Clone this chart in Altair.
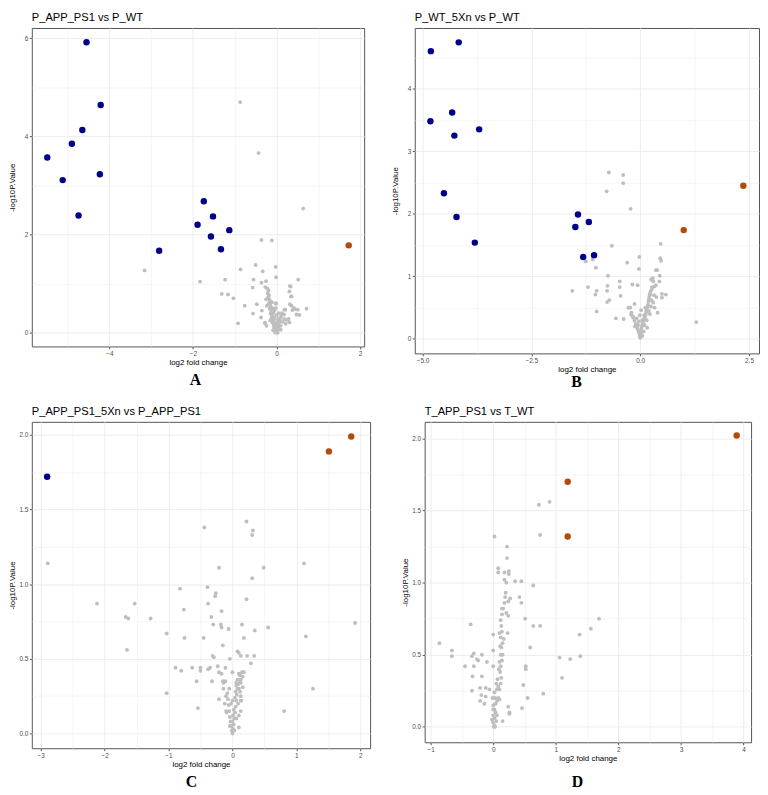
import altair as alt
import pandas as pd

GRAY = "#BEBEBE"
BLUE = "#00008B"
ORANGE = "#B34A0C"

# ---------------- Panel A: P_APP_PS1 vs P_WT ----------------
a_down_x = [-4.55, -4.21, -4.65, -4.90, -5.49, -4.23, -5.12, -1.74, -4.74, -1.89, -1.52, -1.13, -1.57, -1.33, -2.81]
a_down_y = [5.92, 4.64, 4.13, 3.85, 3.57, 3.23, 3.11, 2.68, 2.39, 2.20, 2.37, 2.09, 1.96, 1.70, 1.67]
a_up_x = [1.73]
a_up_y = [1.78]
a_ns_x = [-0.87, -0.43, 0.64, -0.36, -0.11, -3.16, -1.83, -0.86, -0.50, -0.33, -0.02, -0.01, -1.23, -0.55, 0.52,
          -1.31, -1.16, -1.03, -0.76, -0.92, -0.57, -0.36, -0.25, -0.56, -0.47, -0.35, 0.34, 0.31, 0.36, 0.21,
          0.32, 0.36, 0.38, 0.44, 0.72, 0.55, 0.18, 0.29, 0.31, -0.37, -0.28, -0.24, -0.02, -0.27, 0.32, 0.35,
          -0.01, 0.42, 0.51, 0.19, 0.48, 0.24, -0.27,
          -0.19, -0.21, -0.18, -0.20, -0.17, -0.16, -0.18, -0.15, -0.14, -0.16, -0.13, -0.12, -0.14, -0.11, -0.10,
          -0.12, -0.09, -0.08, -0.10, -0.07, -0.05, -0.06, -0.04, -0.02, -0.01, 0.00, 0.01, 0.02, 0.03, 0.05,
          0.04, 0.06, 0.08, 0.07, 0.10, 0.12, 0.13, -0.03, 0.00, -0.05, 0.02, -0.07, 0.00, -0.09, -0.05, -0.11,
          -0.22, -0.25, -0.23, 0.10, 0.15, -0.15, 0.05, -0.02, 0.10, -0.08, 0.18, 0.22, 0.03, -0.03]
a_ns_y = [4.70, 3.66, 2.53, 1.89, 1.88, 1.27, 1.04, 1.29, 1.38, 1.25, 1.34, 1.13, 1.08, 1.08, 1.08,
          0.79, 0.78, 0.70, 0.55, 0.19, 0.92, 1.02, 1.05, 0.39, 0.58, 0.45, 0.94, 0.84, 0.74, 0.47,
          0.58, 0.55, 0.46, 0.48, 0.49, 0.36, 0.37, 0.28, 0.21, 0.31, 0.20, 0.14, 0.60, 0.93, 0.95, 0.74,
          0.59, 0.50, 0.47, 0.47, 0.37, 0.26, 0.20,
          0.86, 0.80, 0.76, 0.72, 0.68, 0.64, 0.60, 0.56, 0.52, 0.49, 0.46, 0.42, 0.39, 0.36, 0.33,
          0.30, 0.27, 0.24, 0.21, 0.18, 0.15, 0.12, 0.09, 0.06, 0.03, 0.01, 0.05, 0.08, 0.11, 0.14,
          0.18, 0.21, 0.25, 0.29, 0.32, 0.36, 0.40, 0.20, 0.16, 0.30, 0.26, 0.40, 0.35, 0.50, 0.45, 0.62,
          0.90, 0.68, 0.55, 0.14, 0.22, 0.25, 0.40, 0.50, 0.06, 0.05, 0.28, 0.18, 0.00, 0.00]

# ---------------- Panel B: P_WT_5Xn vs P_WT ----------------
b_down_x = [-4.17, -4.81, -4.32, -4.82, -3.70, -4.27, -4.51, -4.22, -3.80, -1.43, -1.49, -1.18, -1.31, -1.06]
b_down_y = [4.74, 4.60, 3.62, 3.48, 3.35, 3.25, 2.33, 1.95, 1.54, 1.99, 1.79, 1.87, 1.31, 1.34]
b_up_x = [2.37, 1.00]
b_up_y = [2.45, 1.74]
b_ns_x = [-0.72, -0.39, -0.39, -0.77, -0.22, -0.65, 0.47, -1.25, -1.09, -1.02, -0.30, -0.02, -0.03, 0.46, 0.48,
          0.36, 0.39, -0.74, 0.45, 0.25, 0.30, 0.44, -0.47, 0.36, 0.27, -0.18, -0.06, -0.47, -0.75, -1.20,
          -1.56, -1.00, -1.03, -0.76, -0.45, -0.76, -0.71, -1.00, -0.56, -0.38, 1.29, 0.50, 0.59, 0.50, 0.37,
          0.23, 0.33, 0.40, -0.27, -0.23, -0.13, 0.02, -0.20, -0.17, -0.01,
          0.29, 0.33, 0.27, 0.24, 0.22, 0.21, 0.20, 0.19, 0.18, 0.17, 0.15, 0.14, 0.13, 0.12, 0.10, 0.08,
          0.07, 0.06, 0.04, 0.03, 0.02, 0.02, 0.01, 0.00, -0.01, -0.02, -0.04, -0.06, -0.08, -0.10, -0.13,
          -0.16, -0.21, -0.12, -0.05, 0.10, 0.15, 0.22, 0.25, 0.12, 0.26, 0.30, 0.05, -0.03, 0.00, 0.08,
          0.20, 0.16, -0.08, 0.32, 0.09, 0.05]
b_ns_y = [2.66, 2.62, 2.49, 2.36, 2.08, 1.49, 1.52, 1.24, 1.27, 1.14, 1.22, 1.31, 1.12, 1.29, 1.25,
          1.10, 1.10, 1.01, 1.01, 0.95, 0.92, 0.92, 0.92, 0.86, 0.83, 0.87, 0.86, 0.83, 0.85, 0.83,
          0.77, 0.77, 0.71, 0.77, 0.69, 0.59, 0.62, 0.44, 0.33, 0.32, 0.27, 0.72, 0.71, 0.66, 0.67,
          0.71, 0.50, 0.42, 0.50, 0.50, 0.56, 0.46, 0.42, 0.36, 0.38,
          0.97, 0.84, 0.80, 0.76, 0.72, 0.68, 0.64, 0.60, 0.55, 0.51, 0.47, 0.44, 0.40, 0.37, 0.34, 0.31,
          0.27, 0.24, 0.21, 0.18, 0.14, 0.10, 0.06, 0.02, 0.04, 0.08, 0.12, 0.16, 0.20, 0.24, 0.29,
          0.34, 0.39, 0.20, 0.22, 0.22, 0.30, 0.40, 0.52, 0.50, 0.62, 0.58, 0.30, 0.28, 0.12, 0.12,
          0.45, 0.18, 0.33, 0.70, 0.38, 0.05]

# ---------------- Panel C: P_APP_PS1_5Xn vs P_APP_PS1 ----------------
c_down_x = [-2.90]
c_down_y = [1.72]
c_up_x = [1.51, 1.86]
c_up_y = [1.89, 1.99]
c_ns_x = [-2.89, -0.44, 0.22, 0.32, 0.31, -0.21, 0.49, 1.12, 0.31, -0.82, -0.39, -0.26, -0.27, 0.22,
          -2.12, -1.53, -1.67, -1.63, -1.28, -1.65, -1.03, -0.76, -0.75, -0.38, -0.33, -0.17, -0.30, -0.18,
          -0.17, -0.06, 0.15, 0.56, 0.35, -0.45, -0.15, 0.18, 1.15, 1.92, 0.08, 0.10, 0.13, 0.23, 0.34,
          -0.31, -0.29, -0.04, -0.23, -0.11, -0.50, -0.50, -0.63, -0.89, -0.80, -0.38, -0.35, -0.21, -0.17,
          0.00, 0.10, 0.17, 0.29, -0.56, -0.32, -0.15, -0.14, 0.06, 0.13, -1.03, 1.26, 0.81, -0.54, -0.21,
          -0.10, 0.13, 0.13, 0.14, 0.10,
          0.00, 0.01, 0.02, 0.03, 0.04, 0.05, 0.06, 0.07, 0.08, 0.09, 0.11, 0.12, 0.15, 0.18, -0.01,
          -0.02, -0.03, -0.04, -0.05, -0.06, -0.07, -0.08, -0.10, -0.12, -0.09, 0.00, 0.01, 0.02, -0.02,
          0.04, 0.05, 0.06, 0.08, 0.10, 0.12, 0.13, 0.16, -0.05, 0.03, -0.04, 0.09, 0.10, 0.16, 0.13,
          -0.14, -0.11, 0.00, 0.06]
c_ns_y = [1.14, 1.38, 1.42, 1.36, 1.33, 1.11, 1.11, 1.14, 1.04, 0.97, 0.98, 0.94, 0.92, 0.90,
          0.87, 0.87, 0.78, 0.77, 0.77, 0.56, 0.67, 0.83, 0.64, 0.87, 0.78, 0.82, 0.73, 0.73,
          0.71, 0.70, 0.73, 0.71, 0.69, 0.64, 0.59, 0.64, 0.65, 0.74, 0.55, 0.54, 0.52, 0.52, 0.52,
          0.52, 0.51, 0.50, 0.45, 0.44, 0.44, 0.42, 0.44, 0.44, 0.42, 0.43, 0.44, 0.41, 0.40,
          0.41, 0.40, 0.41, 0.47, 0.35, 0.35, 0.35, 0.34, 0.34, 0.36, 0.27, 0.30, 0.15, 0.17, 0.23,
          0.15, 0.15, 0.25, 0.22, 0.04,
          0.00, 0.03, 0.06, 0.10, 0.14, 0.18, 0.22, 0.26, 0.30, 0.33, 0.36, 0.39, 0.41, 0.41, 0.02,
          0.05, 0.08, 0.11, 0.15, 0.19, 0.23, 0.27, 0.25, 0.20, 0.14, 0.08, 0.12, 0.16, 0.20,
          0.24, 0.28, 0.32, 0.36, 0.30, 0.28, 0.34, 0.38, 0.30, 0.02, 0.05, 0.20, 0.12, 0.31, 0.22,
          0.30, 0.35, 0.22, 0.10]

# ---------------- Panel D: T_APP_PS1 vs T_WT ----------------
d_down_x = []
d_down_y = []
d_up_x = [3.89, 1.19, 1.19]
d_up_y = [2.02, 1.70, 1.32]
d_ns_x = [0.73, 0.90, 0.75, 0.02, 0.22, 0.22, 0.08, 0.08, 0.18, 0.25, 0.25, 0.18, 0.21, 0.35, 0.45, 0.64,
          1.69, -0.36, -0.86, -0.66, -0.66, -0.45, -0.31, -0.31, -0.34, -0.26, -0.24, -0.18, -0.10, -0.33,
          -0.18, -0.21, -0.12, -0.06, -0.34, -0.19, -0.12, -0.21, -0.14, 0.00, 0.23, 0.00, 0.00, 0.51, 0.64,
          0.75, 1.06, 1.23, 1.39, 1.38, 1.56, 1.10, 0.59, 0.52, 0.52, 0.48, 0.80, 0.55, 0.46, 0.24, 0.26,
          0.26, 0.15, 0.42, 0.45, 0.27, 0.24, 0.21, 0.24, 0.14,
          0.12, 0.13, 0.11, 0.12, 0.14, 0.12, 0.13, 0.15, 0.12, 0.14, 0.13, 0.12, 0.14, 0.16, 0.18, 0.19,
          0.20, 0.11, 0.10, 0.09, 0.15, 0.17, 0.10, 0.06, 0.08, 0.10, 0.03, 0.06, 0.00, 0.02, 0.04, 0.00,
          0.02, 0.00, 0.02, -0.02, 0.05, 0.04, -0.01, 0.08, 0.10, 0.02, 0.05, 0.07, 0.00, 0.06, 0.01, 0.03]
d_ns_y = [1.54, 1.56, 1.33, 1.32, 1.25, 1.17, 1.10, 1.07, 1.07, 1.08, 1.06, 1.02, 1.00, 1.01, 1.01, 0.98,
          0.75, 0.71, 0.58, 0.53, 0.49, 0.42, 0.51, 0.42, 0.49, 0.47, 0.46, 0.50, 0.45, 0.35,
          0.35, 0.27, 0.27, 0.26, 0.25, 0.22, 0.21, 0.18, 0.16, 0.64, 0.65, 0.42, 0.53, 0.75, 0.70,
          0.70, 0.48, 0.47, 0.49, 0.64, 0.68, 0.34, 0.55, 0.42, 0.40, 0.29, 0.23, 0.20, 0.13, 0.14, 0.10,
          0.09, 0.04, 0.90, 0.86, 0.89, 0.87, 0.79, 0.77, 0.82,
          0.30, 0.34, 0.38, 0.42, 0.46, 0.50, 0.55, 0.58, 0.62, 0.66, 0.70, 0.74, 0.78, 0.82, 0.86, 0.90,
          0.93, 0.56, 0.45, 0.40, 0.50, 0.61, 0.65, 0.26, 0.28, 0.26, 0.20, 0.18, 0.15, 0.12, 0.10, 0.08,
          0.06, 0.03, 0.01, 0.05, 0.04, 0.16, 0.20, 0.20, 0.19, 0.24, 0.30, 0.33, 0.12, 0.08, 0.00, 0.00]

titles = ["P_APP_PS1 vs P_WT", "P_WT_5Xn vs P_WT", "P_APP_PS1_5Xn vs P_APP_PS1", "T_APP_PS1 vs T_WT"]
letters = ["A", "B", "C", "D"]
x_title = "log2 fold change"
y_title = "-log10P.Value"

FONT = "Liberation Sans"


def make_axis(title, major, minor, fmt, is_y):
    majs = ",".join(repr(float(v)) for v in major)
    test = f"indexof([{majs}], datum.value) >= 0"
    extra = {"minExtent": 13, "maxExtent": 13, "titlePadding": 2.5} if is_y else {"titlePadding": 2}
    return alt.Axis(
        title=title,
        values=sorted(major + minor),
        labelExpr=f"{test} ? format(datum.value, '{fmt}') : ''",
        tickColor={"condition": {"test": test, "value": "#333333"}, "value": "rgba(0,0,0,0)"},
        gridWidth={"condition": {"test": test, "value": 0.9}, "value": 0.5},
        gridColor="#EBEBEB",
        grid=True,
        domain=False,
        tickSize=2.5,
        tickWidth=0.8,
        labelFontSize=6.5,
        labelColor="#4D4D4D",
        labelPadding=1.5,
        labelOverlap=False,
        labelFlush=False,
        labelFont=FONT,
        titleFont=FONT,
        titleFontSize=8,
        titleColor="#000000",
        titleFontWeight="normal",
        **extra,
    )


def panel(i, ns_x, ns_y, dn_x, dn_y, up_x, up_y, xdom, ydom, xmaj, xmin, xfmt, ymaj, ymin, yfmt,
          w, h, lx, ly):
    ns = pd.DataFrame({"x": ns_x, "y": ns_y})
    sig = pd.DataFrame({
        "x": dn_x + up_x,
        "y": dn_y + up_y,
        "g": ["down"] * len(dn_x) + ["up"] * len(up_x),
    })
    X = alt.X("x:Q", scale=alt.Scale(domain=xdom, nice=False, zero=False),
              axis=make_axis(x_title, xmaj, xmin, xfmt, False))
    Y = alt.Y("y:Q", scale=alt.Scale(domain=ydom, nice=False, zero=False),
              axis=make_axis(y_title, ymaj, ymin, yfmt, True))
    base_ns = alt.Chart(ns).mark_circle(size=15, color=GRAY, opacity=1).encode(x=X, y=Y)
    base_sig = alt.Chart(sig).mark_circle(size=42, opacity=1).encode(
        x=X, y=Y,
        color=alt.Color("g:N", scale=alt.Scale(domain=["down", "up"], range=[BLUE, ORANGE]), legend=None),
    )
    lab = alt.Chart(pd.DataFrame({"t": [letters[i]]})).mark_text(
        font="Liberation Serif", fontWeight="bold", fontSize=16, baseline="middle", align="center",
        color="#000000",
    ).encode(text="t:N", x=alt.value(lx), y=alt.value(ly))
    return alt.layer(base_ns, base_sig, lab).properties(
        width=w, height=h,
        title=alt.TitleParams(text=titles[i], anchor="start", frame="group", fontSize=11.2, font=FONT,
                              fontWeight="normal", color="#000000", offset=5),
    )


pA = panel(0, a_ns_x, a_ns_y, a_down_x, a_down_y, a_up_x, a_up_y,
           [-5.86, 2.10], [-0.28, 6.21], [-4, -2, 0, 2], [-5, -3, -1, 1], "d",
           [0, 2, 4, 6], [1, 3, 5], "d", 335, 321, 165, 355)
pB = panel(1, b_ns_x, b_ns_y, b_down_x, b_down_y, b_up_x, b_up_y,
           [-5.18, 2.73], [-0.23, 4.97], [-5, -2.5, 0, 2.5], [-3.75, -1.25, 1.25], ".1f",
           [0, 1, 2, 3, 4], [0.5, 1.5, 2.5, 3.5, 4.5], "d", 347, 328, 163, 357)
pC = panel(2, c_ns_x, c_ns_y, c_down_x, c_down_y, c_up_x, c_up_y,
           [-3.14, 2.155], [-0.099, 2.088], [-3, -2, -1, 0, 1, 2], [-2.5, -1.5, -0.5, 0.5, 1.5], "d",
           [0, 0.5, 1, 1.5, 2], [0.25, 0.75, 1.25, 1.75], ".1f", 341, 329, 161, 363)
pD = panel(3, d_ns_x, d_ns_y, d_down_x, d_down_y, d_up_x, d_up_y,
           [-1.095, 4.12], [-0.107, 2.115], [-1, 0, 1, 2, 3, 4], [-0.5, 0.5, 1.5, 2.5, 3.5], "d",
           [0, 0.5, 1, 1.5, 2], [0.25, 0.75, 1.25, 1.75], ".1f", 329, 323, 154, 363)

row1 = alt.hconcat(pA, pB, spacing=26)
row2 = alt.hconcat(pC, pD, spacing=30)
chart = alt.vconcat(row1, row2, spacing=14).properties(
    padding={"left": 0, "top": 0, "right": 0, "bottom": 0},
    background="white",
).configure_view(stroke="#555555", strokeWidth=1)

chart.save("out.html", embed_options={"renderer": "svg", "actions": False})
